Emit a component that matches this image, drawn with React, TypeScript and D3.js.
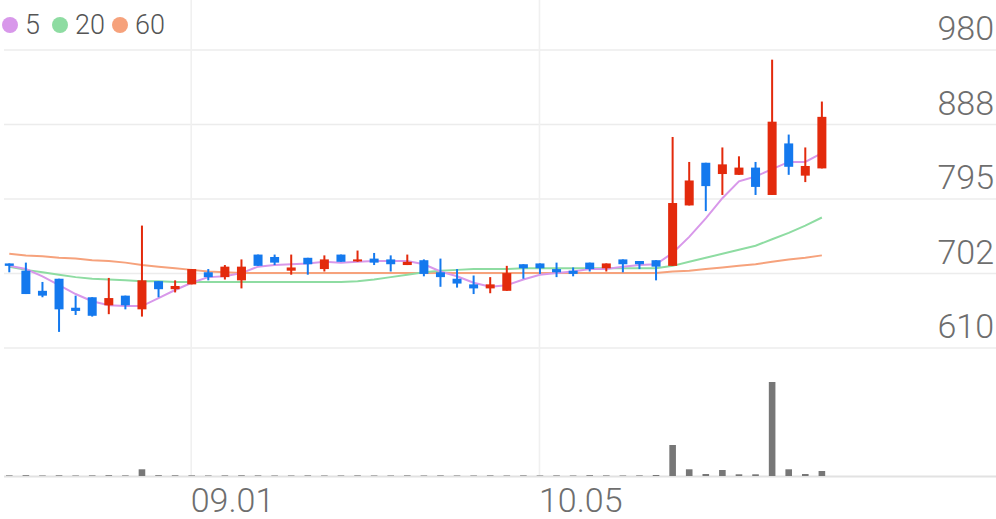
import { useEffect, useRef } from 'react'
import * as d3 from 'd3'

const dates = [
  '08.17', '08.18', '08.19', '08.22', '08.23', '08.24', '08.25', '08.26', '08.29', '08.30',
  '08.31', '09.01', '09.02', '09.05', '09.06', '09.07', '09.08', '09.13', '09.14', '09.15',
  '09.16', '09.19', '09.20', '09.21', '09.22', '09.23', '09.26', '09.27', '09.28', '09.29',
  '09.30', '10.04', '10.05', '10.06', '10.07', '10.11', '10.12', '10.13', '10.14', '10.17',
  '10.18', '10.19', '10.20', '10.21', '10.24', '10.25', '10.26', '10.27', '10.28', '10.31'
]

const opens = [
  715, 706, 681, 696, 660, 673, 663, 675, 658, 693,
  683, 689, 704, 698, 694, 726, 723, 706, 722, 708,
  726, 718, 721, 720, 713, 719, 704, 696, 689, 684,
  681, 714, 715, 708, 706, 716, 709, 720, 718, 719,
  712, 787, 840, 826, 825, 834, 800, 864, 824, 833
]
const highs = [
  715, 716, 692, 696, 675, 673, 697, 675, 762, 693,
  694, 708, 708, 713, 720, 726, 726, 726, 722, 725,
  726, 731, 728, 725, 726, 720, 721, 708, 700, 698,
  712, 714, 715, 716, 710, 716, 715, 720, 718, 719,
  872, 841, 840, 859, 848, 841, 968, 875, 859, 916
]
const lows = [
  704, 677, 673, 630, 651, 649, 652, 658, 649, 673,
  679, 689, 694, 695, 684, 712, 713, 701, 701, 705,
  717, 717, 713, 705, 713, 699, 686, 685, 677, 678,
  681, 696, 702, 698, 699, 705, 705, 704, 708, 694,
  712, 787, 780, 800, 825, 800, 800, 825, 816, 833
]
const closes = [
  712, 677, 675, 658, 656, 650, 672, 663, 694, 683,
  687, 708, 698, 711, 711, 712, 716, 710, 714, 720,
  717, 720, 716, 714, 717, 702, 698, 690, 684, 689,
  703, 709, 709, 704, 702, 708, 715, 714, 714, 711,
  790, 818, 811, 838, 834, 810, 891, 835, 836, 897
]
const volumes = [
  6, 8, 5, 7, 5, 6, 8, 6, 67, 8,
  7, 6, 5, 6, 7, 6, 5, 5, 6, 5,
  5, 6, 5, 5, 6, 5, 6, 5, 5, 6,
  5, 6, 5, 6, 5, 8, 6, 5, 6, 10,
  310, 67, 20, 60, 17, 17, 940, 67, 20, 50
]

const ma5 = [
  712, 708, 699, 688, 677, 668, 663, 662, 662, 672,
  682, 691, 698, 699, 703, 711, 713, 714, 715, 717,
  716, 717, 718, 718, 718, 714, 705, 699, 691, 686,
  688, 695, 701, 703, 705, 708, 708, 711, 713, 714,
  728, 748, 771, 796, 817, 823, 832, 841, 841, 852
]
const ma20 = [
  711, 707, 704, 701, 698, 696, 695, 694, 693, 693,
  692, 692, 692, 692, 692, 692, 692, 692, 692, 692,
  692, 693, 695, 698, 701, 704, 706, 707, 708, 708,
  708, 709, 709, 709, 709, 709, 709, 709, 709, 709,
  712, 717, 722, 727, 732, 737, 745, 753, 762, 772
]
const ma60 = [
  727, 725, 724, 722, 721, 719, 718, 716, 713, 711,
  709, 707, 705, 704, 703, 703, 703, 703, 703, 703,
  703, 703, 703, 703, 703, 703, 703, 703, 703, 703,
  703, 703, 703, 703, 703, 703, 703, 703, 703, 703,
  705, 706, 708, 710, 712, 714, 717, 720, 722, 725
]

const yTicks = [610, 702.5, 795, 887.5, 980]
const yTickLabels = ['610', '702', '795', '888', '980']
const xTicks = ['09.01', '10.05']

const legendNames = ['5', '20', '60']
const legendColors = ['#d898ea', '#8edca2', '#f6a27c']

const W = 996
const H = 519
const UP = '#e32a0c'
const DOWN = '#1479ee'

export default function App() {
  const svgRef = useRef<SVGSVGElement>(null)

  useEffect(() => {
    if (!svgRef.current) return
    const svg = d3.select(svgRef.current)
    svg.selectAll('*').remove()

    const slots = 60
    const x = d3.scaleLinear().domain([-0.5, slots - 0.5]).range([1, W])
    const y = d3.scaleLinear().domain([610, 980]).range([348, 50])
    const yVol = d3.scaleLinear().domain([0, d3.max(volumes) as number]).range([476, 382])

    const font = 'Roboto, "Noto Sans", sans-serif'

    // grid
    svg.append('g')
      .selectAll('line')
      .data(yTicks)
      .enter()
      .append('line')
      .attr('x1', 4)
      .attr('x2', W)
      .attr('y1', d => y(d))
      .attr('y2', d => y(d))
      .attr('stroke', '#ececec')
      .attr('stroke-width', 1.6)

    svg.append('g')
      .selectAll('line')
      .data(xTicks)
      .enter()
      .append('line')
      .attr('x1', d => x(dates.indexOf(d)) - 0.5)
      .attr('x2', d => x(dates.indexOf(d)) - 0.5)
      .attr('y1', 0)
      .attr('y2', 476)
      .attr('stroke', '#f0f0f0')
      .attr('stroke-width', 1.6)

    svg.append('line')
      .attr('x1', 4)
      .attr('x2', W)
      .attr('y1', yVol(0) + 0.5)
      .attr('y2', yVol(0) + 0.5)
      .attr('stroke', '#e2e2e2')
      .attr('stroke-width', 2)

    // y labels
    svg.append('g')
      .selectAll('text')
      .data(yTicks)
      .enter()
      .append('text')
      .attr('x', 994)
      .attr('y', d => y(d) - 10)
      .attr('text-anchor', 'end')
      .attr('font-family', font)
      .attr('font-weight', 300)
      .attr('font-size', 34)
      .attr('fill', '#6e6e6e')
      .text((d, i) => yTickLabels[i])

    // x labels
    svg.append('g')
      .selectAll('text')
      .data(xTicks)
      .enter()
      .append('text')
      .attr('x', d => x(dates.indexOf(d)) - 1)
      .attr('y', 512)
      .attr('font-family', font)
      .attr('font-weight', 300)
      .attr('font-size', 34)
      .attr('fill', '#6e6e6e')
      .text(d => d)

    // volume
    svg.append('g')
      .selectAll('rect')
      .data(volumes)
      .enter()
      .append('rect')
      .attr('x', (d, i) => x(i) - 3.3)
      .attr('width', 6.6)
      .attr('y', d => yVol(d))
      .attr('height', d => yVol(0) - yVol(d))
      .attr('fill', '#777')

    // moving averages
    const maLine = d3.line<number>()
      .x((d, i) => x(i))
      .y(d => y(d))
    ;[ma60, ma20, ma5].forEach((series, k) => {
      svg.append('path')
        .datum(series)
        .attr('fill', 'none')
        .attr('stroke', legendColors[2 - k])
        .attr('stroke-width', 2)
        .attr('d', maLine)
    })

    // candles
    const candles = svg.append('g')
      .selectAll('g')
      .data(dates)
      .enter()
      .append('g')
      .attr('fill', (d, i) => (closes[i] >= opens[i] ? UP : DOWN))
      .attr('stroke', 'none')

    candles.append('rect')
      .attr('x', (d, i) => x(i) - 1)
      .attr('width', 2)
      .attr('y', (d, i) => y(highs[i]))
      .attr('height', (d, i) => Math.max(1, y(lows[i]) - y(highs[i])))

    candles.append('rect')
      .attr('x', (d, i) => x(i) - 4.5)
      .attr('width', 9)
      .attr('y', (d, i) => y(Math.max(opens[i], closes[i])))
      .attr('height', (d, i) => Math.max(2, Math.abs(y(opens[i]) - y(closes[i]))))

    // legend
    const legendX = [10, 60, 120]
    const legend = svg.append('g')
    legendNames.forEach((name, i) => {
      legend.append('circle')
        .attr('cx', legendX[i])
        .attr('cy', 25)
        .attr('r', 8)
        .attr('fill', legendColors[i])
      legend.append('text')
        .attr('x', legendX[i] + 15)
        .attr('y', 34)
        .attr('font-family', font)
        .attr('font-weight', 300)
        .attr('font-size', 27)
        .attr('fill', '#555')
        .text(name)
    })
  }, [])

  return (
    <svg
      ref={svgRef}
      width={W}
      height={H}
      style={{ position: 'absolute', left: 0, top: 0, background: '#fff' }}
    />
  )
}
